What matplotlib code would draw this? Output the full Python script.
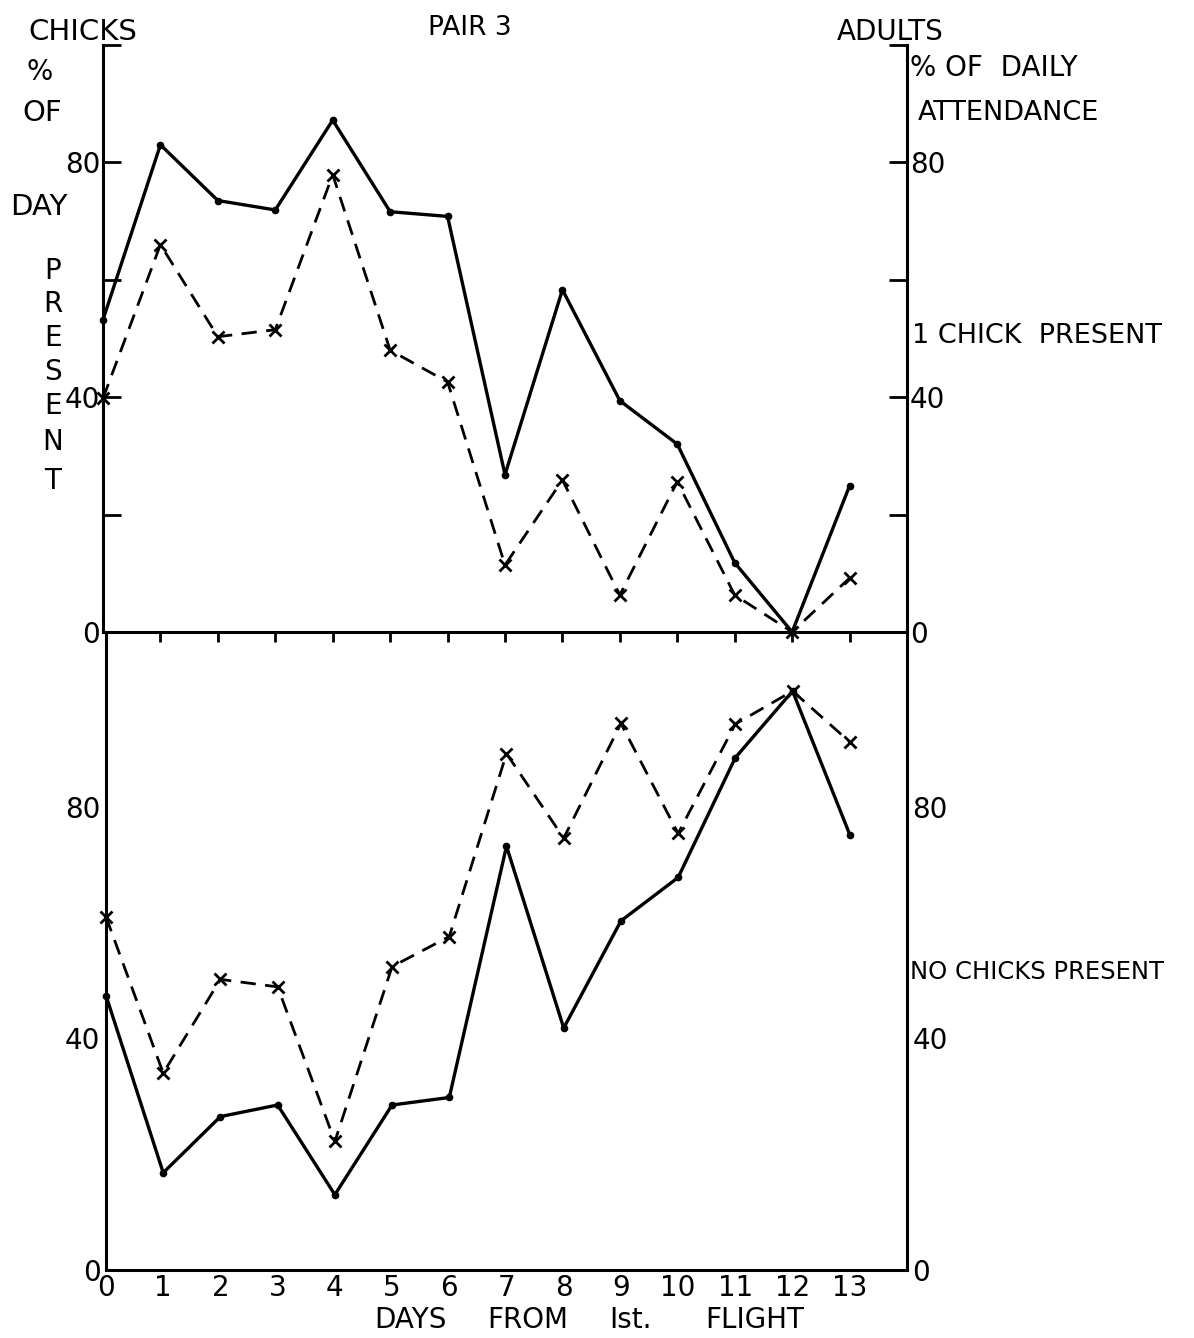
import matplotlib
matplotlib.use("Agg")
import matplotlib.pyplot as plt

plt.rcParams['font.family'] = ['DejaVu Sans']

# Days from first flight
days = list(range(14))
day_labels = [str(d) for d in days]

# Pair 3, one chick present: % of day present
chick1_chicks = [53.2, 83.0, 73.5, 71.9, 87.2, 71.6, 70.8, 26.8, 58.3, 39.4, 32.0, 11.8, 0.0, 24.9]
chick1_adults = [39.8, 66.0, 50.3, 51.5, 77.9, 48.0, 42.6, 11.4, 25.9, 6.3, 25.6, 6.3, 0.0, 9.2]

# Pair 3, no chicks present: % of daily attendance
nochick_chicks = [47.4, 16.8, 26.5, 28.5, 13.0, 28.5, 29.8, 73.2, 41.8, 60.3, 67.8, 88.5, 100.0, 75.2]
nochick_adults = [61.0, 34.0, 50.2, 48.9, 22.2, 52.4, 57.6, 89.2, 74.6, 94.4, 75.4, 94.3, 100.0, 91.2]

y_ticks = [0, 20, 40, 60, 80, 100]
y_ticklabels = ['0', '', '40', '', '80', '']
y_ticks_bot = [0, 40, 80]
y_ticklabels_bot = ['0', '40', '80']

W, H = 1194, 1338
fig = plt.figure(figsize=(W / 100, H / 100), dpi=100)
fig.patch.set_facecolor('white')


def rect(x0, y0, x1, y1):
    return [x0 / W, 1 - y1 / H, (x1 - x0) / W, (y1 - y0) / H]


def txt(x, y, s, ha='left', size=21, **kw):
    fig.text(x / W, 1 - y / H, s, ha=ha, va='center', fontsize=size,
             color='black', **kw)


SPINE_LW = 2.2
FS = 20


def draw_series(ax, chicks, adults):
    ax.plot(days, chicks, linestyle='-', color='black', lw=2.4,
            marker='o', ms=4.5, clip_on=False, zorder=3)
    ax.plot(days, adults, linestyle=(0, (5.5, 3.4)), color='black', lw=2.0,
            marker='x', ms=8, mew=2.0, clip_on=False, zorder=3)


# ---- lower panel: no chicks present ----
ax2 = fig.add_axes(rect(106, 632, 907, 1270))
ax2.patch.set_visible(False)
draw_series(ax2, nochick_chicks, nochick_adults)
ax2.set_xlim(0, 14)
ax2.set_ylim(0, 110.2)
for side in ('left', 'right', 'bottom'):
    ax2.spines[side].set_linewidth(SPINE_LW)
ax2.spines['top'].set_visible(False)
ax2.set_yticks(y_ticks_bot)
ax2.set_yticklabels(y_ticklabels_bot)
ax2.tick_params(axis='y', length=0, labelsize=FS, left=True, right=True,
                labelleft=True, labelright=True, pad=4)
ax2.set_xticks(days)
ax2.set_xticklabels(day_labels)
ax2.tick_params(axis='x', length=0, labelsize=FS, pad=3)

# ---- upper panel: 1 chick present ----
ax1 = fig.add_axes(rect(103, 45, 907, 632))
ax1.patch.set_visible(False)
draw_series(ax1, chick1_chicks, chick1_adults)
ax1.set_xlim(0, 14)
ax1.set_ylim(0, 100)
for side in ('left', 'right', 'bottom'):
    ax1.spines[side].set_linewidth(SPINE_LW)
ax1.spines['top'].set_visible(False)
ax1.set_yticks(y_ticks)
ax1.set_yticklabels(y_ticklabels)
ax1.tick_params(axis='y', direction='in', length=13, width=2.0,
                labelsize=FS, left=True, right=True,
                labelleft=True, labelright=True, pad=2)
ax1.set_xticks(days[1:])
ax1.tick_params(axis='x', direction='out', length=7, width=2.0,
                labelbottom=False)

# ---- headings and axis captions ----
txt(28, 32, 'CHICKS', size=21)
txt(470, 28, 'PAIR 3', ha='center', size=19)
txt(837, 32, 'ADULTS', size=20)
txt(26, 72, '%', size=20)
txt(22, 113, 'OF', size=21)
txt(10, 207, 'DAY', size=21)
for ch, yy in zip('PRESENT', [271, 304, 338, 372, 406, 442, 481]):
    txt(53, yy, ch, ha='center', size=20)

txt(910, 68, '% OF  DAILY', size=20)
txt(918, 113, 'ATTENDANCE', size=19.5)
txt(912, 336, '1 CHICK  PRESENT', size=19.5)
txt(910, 972, 'NO CHICKS PRESENT', size=17.5)

for word, xc in zip(['DAYS', 'FROM', 'Ist.', 'FLIGHT'], [410, 528, 630, 755]):
    txt(xc, 1320, word, ha='center', size=20)

fig.savefig('out.png', dpi=100, facecolor='white')
